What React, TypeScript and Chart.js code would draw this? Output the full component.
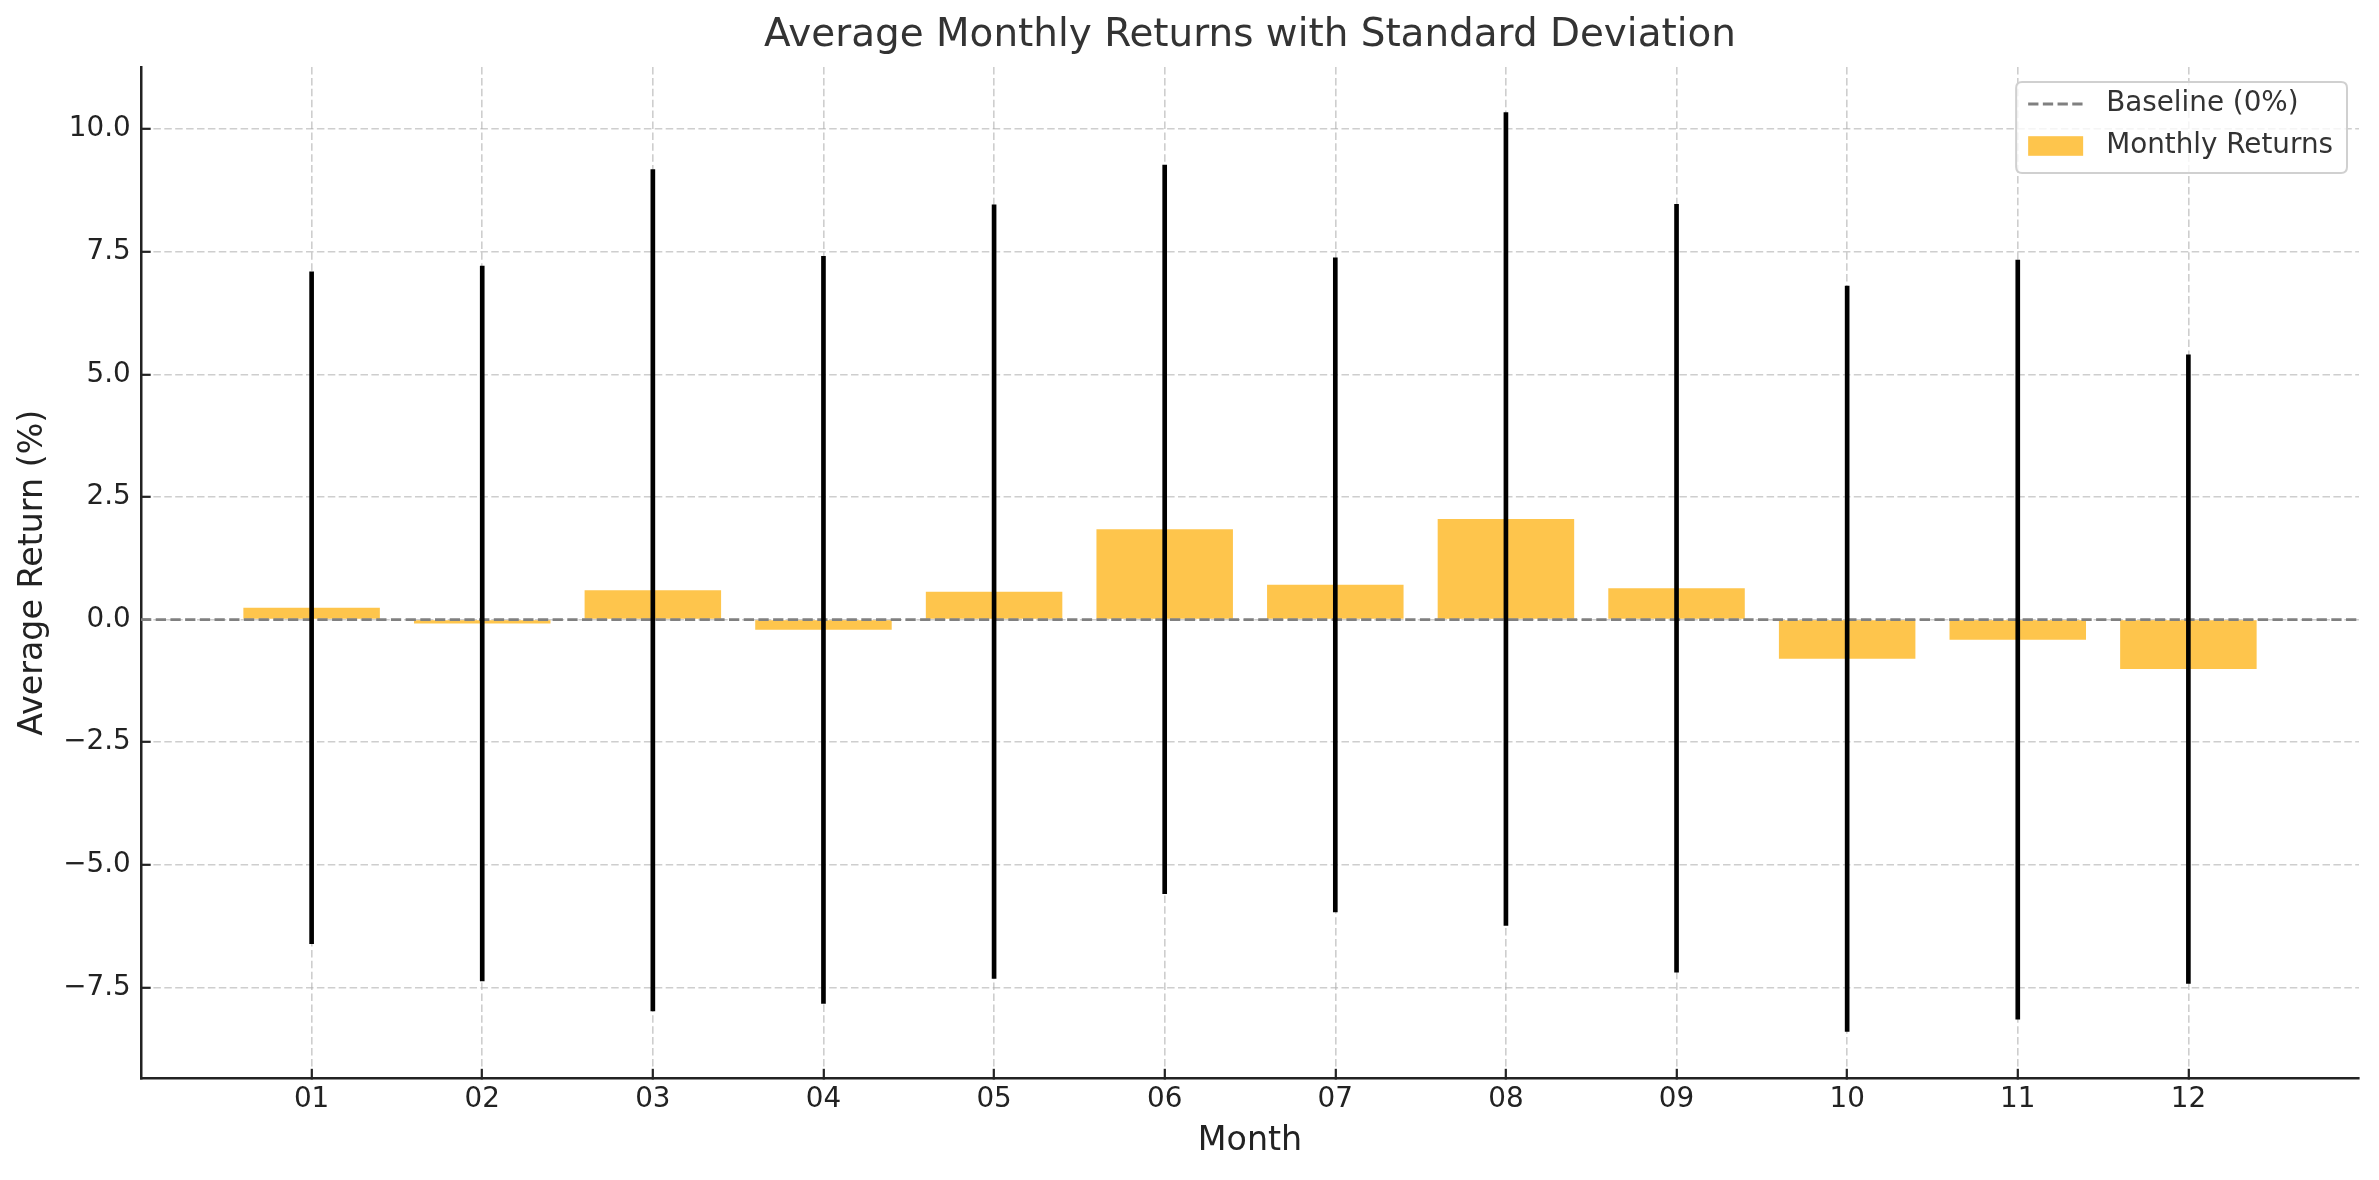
import { useEffect, useRef } from 'react';
import { Chart, registerables } from 'chart.js';

Chart.register(...registerables);

// Month labels and per-month statistics (average return and its standard deviation, in %)
const MONTHS = ['01', '02', '03', '04', '05', '06', '07', '08', '09', '10', '11', '12'];
const MEANS = [0.24, -0.08, 0.6, -0.21, 0.57, 1.84, 0.71, 2.05, 0.64, -0.8, -0.41, -1.01];
const STDS = [6.85, 7.29, 8.58, 7.62, 7.89, 7.43, 6.67, 8.29, 7.83, 7.6, 7.74, 6.41];
const BASELINE = 0;

// Axis limits and tick spacing
const X_MIN = -1;
const X_MAX = 12;
const Y_MIN = -9.36;
const Y_MAX = 11.27;
const Y_STEP = 2.5;

const TITLE = 'Average Monthly Returns with Standard Deviation';
const X_LABEL = 'Month';
const Y_LABEL = 'Average Return (%)';
const LEGEND_BASELINE = 'Baseline (0%)';
const LEGEND_BARS = 'Monthly Returns';

const FONT = '"DejaVu Sans", sans-serif';
const BAR_COLOR = 'rgb(254,197,76)';
const BASE_COLOR = '#808080';
const GRID_COLOR = 'rgba(176,176,176,0.62)';
const INK = '#222222';
const TEXT = '#333333';
const BASE_DASH = [10.3, 4.4];
const GRID_DASH = [7.5, 3.4];

// Title centred over the plot area plus an in-axes legend box
const overlay = {
  id: 'overlay',
  afterDraw(chart: any) {
    const { ctx, chartArea: a } = chart;
    ctx.save();
    ctx.fillStyle = TEXT;
    ctx.font = `38.9px ${FONT}`;
    ctx.textAlign = 'center';
    ctx.textBaseline = 'middle';
    ctx.fillText(TITLE, (a.left + a.right) / 2, 36);

    ctx.font = `27.8px ${FONT}`;
    const textW = Math.max(
      ctx.measureText(LEGEND_BASELINE).width,
      ctx.measureText(LEGEND_BARS).width
    );
    const padL = 12;
    const handle = 55;
    const gap = 23;
    const padR = 14;
    const w = padL + handle + gap + textW + padR;
    const h = 91;
    const x0 = a.right - 12 - w;
    const y0 = a.top + 15;
    const r = 6;
    ctx.beginPath();
    ctx.moveTo(x0 + r, y0);
    ctx.lineTo(x0 + w - r, y0);
    ctx.quadraticCurveTo(x0 + w, y0, x0 + w, y0 + r);
    ctx.lineTo(x0 + w, y0 + h - r);
    ctx.quadraticCurveTo(x0 + w, y0 + h, x0 + w - r, y0 + h);
    ctx.lineTo(x0 + r, y0 + h);
    ctx.quadraticCurveTo(x0, y0 + h, x0, y0 + h - r);
    ctx.lineTo(x0, y0 + r);
    ctx.quadraticCurveTo(x0, y0, x0 + r, y0);
    ctx.closePath();
    ctx.fillStyle = 'rgba(255,255,255,0.8)';
    ctx.fill();
    ctx.strokeStyle = '#d0d0d0';
    ctx.lineWidth = 2;
    ctx.stroke();

    const row1 = y0 + 22;
    const row2 = y0 + 64;
    const hx = x0 + padL;
    ctx.beginPath();
    ctx.setLineDash(BASE_DASH);
    ctx.strokeStyle = BASE_COLOR;
    ctx.lineWidth = 2.78;
    ctx.moveTo(hx, row1);
    ctx.lineTo(hx + handle, row1);
    ctx.stroke();
    ctx.setLineDash([]);

    ctx.fillStyle = BAR_COLOR;
    ctx.fillRect(hx, row2 - 9.8, handle, 19.6);

    ctx.fillStyle = TEXT;
    ctx.textAlign = 'left';
    ctx.textBaseline = 'middle';
    ctx.fillText(LEGEND_BASELINE, hx + handle + gap, row1);
    ctx.fillText(LEGEND_BARS, hx + handle + gap, row2);
    ctx.restore();
  },
};

function fmtY(v: number) {
  const s = Math.abs(v).toFixed(1);
  return v < 0 ? '\u2212' + s : s;
}

export default function App() {
  const canvasRef = useRef<HTMLCanvasElement | null>(null);

  useEffect(() => {
    const canvas = canvasRef.current;
    if (!canvas) return;
    Chart.defaults.font.family = FONT;

    const chart = new Chart(canvas, {
      type: 'bar',
      data: {
        datasets: [
          {
            type: 'bar',
            label: 'Std Dev',
            data: MEANS.map((m, i) => ({ x: i, y: [m - STDS[i], m + STDS[i]] })) as any,
            backgroundColor: '#000000',
            barThickness: 4,
            grouped: false,
            order: 0,
          } as any,
          {
            type: 'line',
            label: LEGEND_BASELINE,
            data: [
              { x: X_MIN, y: BASELINE },
              { x: X_MAX, y: BASELINE },
            ],
            borderColor: BASE_COLOR,
            borderWidth: 2.78,
            borderDash: BASE_DASH,
            pointRadius: 0,
            fill: false,
            order: 1,
          } as any,
          {
            type: 'bar',
            label: LEGEND_BARS,
            data: MEANS.map((m, i) => ({ x: i, y: m })) as any,
            backgroundColor: BAR_COLOR,
            barPercentage: 0.8,
            categoryPercentage: 1,
            grouped: false,
            order: 2,
          } as any,
        ],
      },
      options: {
        responsive: false,
        animation: false,
        devicePixelRatio: 1,
        events: [],
        layout: { padding: { top: 67, right: 20, left: 0, bottom: 0 } },
        plugins: {
          legend: { display: false },
          title: { display: false },
          tooltip: { enabled: false },
        },
        scales: {
          x: {
            type: 'linear',
            min: X_MIN,
            max: X_MAX,
            offset: false,
            afterFit: (s: any) => {
              s.height = 101.5;
            },
            grid: {
              offset: false,
              color: GRID_COLOR,
              lineWidth: 1.6,
              drawTicks: true,
              tickLength: -9.7,
              tickColor: INK,
              tickWidth: 2.2,
              tickBorderDash: [],
            } as any,
            border: { display: true, color: INK, width: 2.5, dash: GRID_DASH },
            ticks: {
              stepSize: 1,
              maxTicksLimit: 100,
              autoSkip: false,
              maxRotation: 0,
              padding: 14,
              color: INK,
              font: { size: 27.8 },
              callback: (v: any) => {
                const i = Number(v);
                return Number.isInteger(i) && i >= 0 && i < MONTHS.length ? MONTHS[i] : null;
              },
            },
            title: {
              display: true,
              text: X_LABEL,
              color: INK,
              font: { size: 33.3 },
              padding: { top: 0, bottom: 19 },
            },
          },
          y: {
            type: 'linear',
            min: Y_MIN,
            max: Y_MAX,
            afterFit: (s: any) => {
              s.width = 141;
            },
            grid: {
              color: GRID_COLOR,
              lineWidth: 1.6,
              drawTicks: true,
              tickLength: -9.7,
              tickColor: INK,
              tickWidth: 2.2,
              tickBorderDash: [],
            } as any,
            border: { display: true, color: INK, width: 2.5, dash: GRID_DASH },
            ticks: {
              stepSize: Y_STEP,
              includeBounds: false,
              maxTicksLimit: 100,
              padding: 20,
              color: INK,
              font: { size: 27.8 },
              callback: (v: any) => fmtY(Number(v)),
            },
            title: {
              display: true,
              text: Y_LABEL,
              color: INK,
              font: { size: 33.3 },
              padding: { top: 13.5, bottom: 0 },
            },
          },
        },
      },
      plugins: [overlay],
    });

    return () => chart.destroy();
  }, []);

  return (
    <div style={{ position: 'fixed', left: 0, top: 0, width: 2379, height: 1180, background: '#ffffff' }}>
      <canvas ref={canvasRef} width={2379} height={1180} style={{ display: 'block' }} />
    </div>
  );
}
